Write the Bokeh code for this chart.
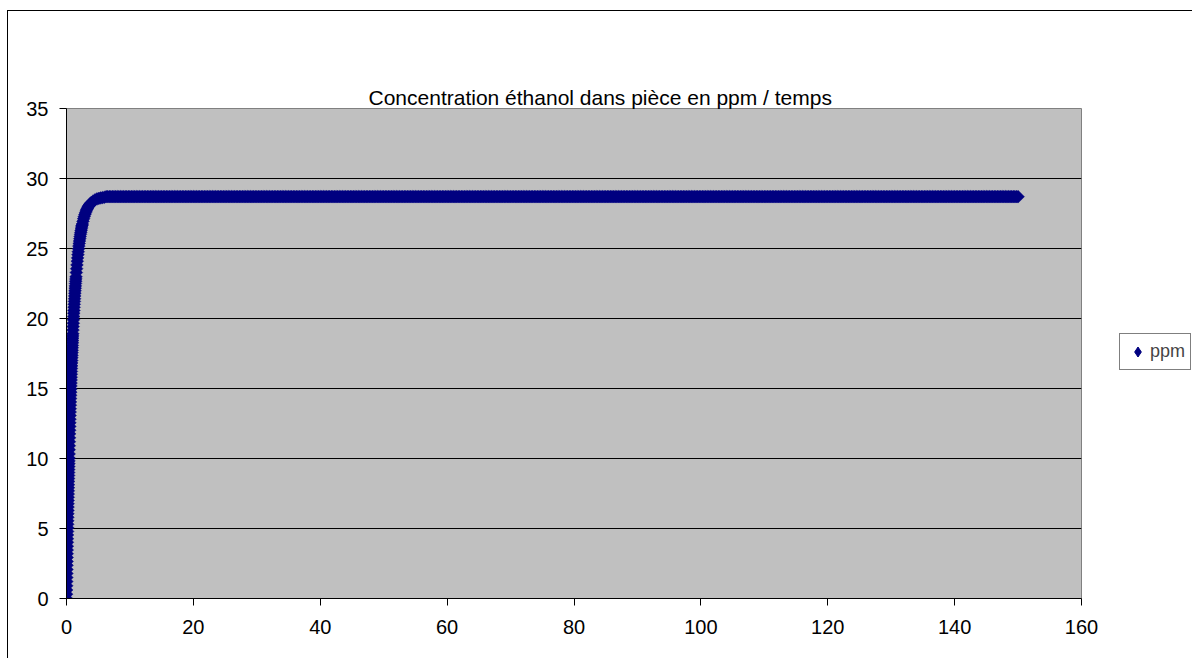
import numpy as np
from bokeh.plotting import figure
from bokeh.models import (ColumnDataSource, FixedTicker, Legend, LegendItem, LinearAxis,
                          Range1d)
from bokeh.embed import file_html
from bokeh.resources import INLINE

# Rise of the ethanol concentration (time, ppm) during the first hours
rise_t = [0.00, 0.01, 0.02, 0.03, 0.04, 0.05, 0.06, 0.07, 0.08, 0.09, 0.10,
          0.11, 0.12, 0.13, 0.14, 0.15, 0.16, 0.17, 0.18, 0.19, 0.20,
          0.21, 0.22, 0.23, 0.24, 0.25, 0.26, 0.27, 0.28, 0.29, 0.30,
          0.31, 0.32, 0.33, 0.34, 0.35, 0.36, 0.37, 0.38, 0.39, 0.40,
          0.415, 0.43, 0.445, 0.46, 0.475, 0.49, 0.505, 0.52, 0.535, 0.55,
          0.565, 0.58, 0.595, 0.61, 0.625, 0.64, 0.655, 0.67, 0.685, 0.70,
          0.715, 0.73, 0.745, 0.76, 0.775, 0.79, 0.805, 0.82, 0.835, 0.85,
          0.865, 0.88, 0.895, 0.91, 0.925, 0.94, 0.955, 0.97, 0.985, 1.00,
          1.025, 1.05, 1.075, 1.10, 1.125, 1.15, 1.175, 1.20, 1.225, 1.25,
          1.275, 1.30, 1.325, 1.35, 1.375, 1.40, 1.425, 1.45, 1.475, 1.50,
          1.55, 1.60, 1.65, 1.70, 1.75, 1.80, 1.85, 1.90, 1.95, 2.00,
          2.05, 2.10, 2.15, 2.20, 2.25, 2.30, 2.35, 2.40, 2.45, 2.50,
          2.6, 2.7, 2.8, 2.9, 3.0, 3.1, 3.2, 3.3, 3.4, 3.5,
          3.6, 3.7, 3.8, 3.9, 4.2, 4.5, 4.8, 5.1, 5.4, 5.7, 6.0]
rise_ppm = [0.00, 0.31, 0.61, 0.91, 1.21, 1.50, 1.79, 2.08, 2.37, 2.65, 2.93,
            3.20, 3.47, 3.74, 4.01, 4.27, 4.54, 4.79, 5.05, 5.30, 5.55,
            5.80, 6.05, 6.29, 6.53, 6.77, 7.00, 7.23, 7.46, 7.69, 7.91,
            8.13, 8.36, 8.57, 8.79, 9.00, 9.21, 9.42, 9.63, 9.83, 10.03,
            10.33, 10.63, 10.91, 11.20, 11.48, 11.76, 12.02, 12.29, 12.55, 12.81,
            13.07, 13.32, 13.56, 13.81, 14.04, 14.28, 14.51, 14.74, 14.96, 15.18,
            15.39, 15.61, 15.81, 16.02, 16.22, 16.43, 16.62, 16.82, 17.00, 17.19,
            17.37, 17.56, 17.73, 17.91, 18.08, 18.26, 18.42, 18.59, 18.75, 18.91,
            19.17, 19.42, 19.66, 19.91, 20.14, 20.37, 20.58, 20.80, 21.01, 21.22,
            21.41, 21.61, 21.80, 21.98, 22.16, 22.33, 22.50, 22.66, 22.82, 22.98,
            23.28, 23.56, 23.83, 24.09, 24.33, 24.56, 24.77, 24.98, 25.17, 25.36,
            25.53, 25.70, 25.86, 26.01, 26.15, 26.28, 26.41, 26.53, 26.64, 26.75,
            26.94, 27.13, 27.28, 27.43, 27.56, 27.68, 27.78, 27.87, 27.96, 28.03,
            28.10, 28.16, 28.22, 28.27, 28.39, 28.47, 28.54, 28.58, 28.61, 28.64, 28.66]

# Steady-state level, sampled every quarter hour up to 150
plateau_level = 28.7
plateau_t = np.arange(6.25, 150.001, 0.25)

x_ticks = [0, 20, 40, 60, 80, 100, 120, 140, 160]
y_ticks = [0, 5, 10, 15, 20, 25, 30, 35]

title_text = "Concentration éthanol dans pièce en ppm / temps"
series_name = "ppm"

t_all = np.concatenate([np.array(rise_t), plateau_t])
ppm_all = np.concatenate([np.array(rise_ppm), np.full(len(plateau_t), plateau_level)])
source = ColumnDataSource(data=dict(t=t_all, ppm=ppm_all))

FONT = "Liberation Sans"
NAVY = "#000080"

p = figure(width=1185, height=648, frame_width=1015, frame_height=490,
           min_border_left=58, min_border_top=97, min_border_right=111,
           min_border_bottom=60,
           x_range=Range1d(0, 160), y_range=Range1d(0, 35),
           output_backend="svg", toolbar_location=None, tools="")
p.styles = {"margin-left": "7px", "margin-top": "10px",
            "border-left": "1px solid black", "border-top": "1px solid black"}

# The real axes, kept before any extra axis is added
x_axis = p.below[0]
y_axis = p.left[0]

# Blank axis above the frame: keeps a gap between the title and the plot area
gap = LinearAxis(ticker=FixedTicker(ticks=[]), axis_line_color=None,
                 major_tick_line_color=None, minor_tick_line_color=None,
                 major_tick_out=53, major_tick_in=0, minor_tick_out=0,
                 major_label_standoff=0, axis_label_standoff=0,
                 major_label_text_color=None)
p.add_layout(gap, "above")

p.title.text = title_text
p.title.align = "left"
p.title.offset = 302
p.title.standoff = 0
p.title.text_font = FONT
p.title.text_font_size = "21px"
p.title.text_font_style = "normal"
p.title.text_color = "black"

p.background_fill_color = "#C0C0C0"
p.border_fill_color = "white"
p.outline_line_color = "#808080"
p.outline_line_width = 1

p.xgrid.visible = False
p.ygrid.grid_line_color = "black"
p.ygrid.grid_line_width = 1
p.ygrid.ticker = FixedTicker(ticks=y_ticks)

for ax in (x_axis, y_axis):
    ax.axis_line_color = "black"
    ax.major_tick_line_color = "black"
    ax.major_tick_out = 7
    ax.major_tick_in = 0
    ax.minor_tick_line_color = None
    ax.major_label_text_font = FONT
    ax.major_label_text_font_size = "20px"
    ax.major_label_text_color = "black"

x_axis.ticker = FixedTicker(ticks=x_ticks)
y_axis.ticker = FixedTicker(ticks=y_ticks)
x_axis.major_label_standoff = 14
y_axis.major_label_standoff = 11

# Data points: navy diamonds (squares turned by 45 degrees)
r = p.scatter("t", "ppm", source=source, marker="square", angle=np.pi / 4,
              size=9, fill_color=NAVY, line_color=NAVY, line_width=0.5)

# Hidden diamond series that only supplies the legend swatch
key = p.scatter("t", "ppm", source=source, marker="diamond",
                fill_color=NAVY, line_color=NAVY, visible=False)

legend = Legend(items=[LegendItem(label=series_name, renderers=[key])],
                location=(38, 228), orientation="vertical",
                border_line_color="black", border_line_width=1,
                background_fill_color="white", background_fill_alpha=1,
                label_text_font=FONT, label_text_font_size="18px",
                glyph_width=25, glyph_height=25, label_standoff=0,
                padding=5, margin=0, spacing=0, label_height=20)
p.add_layout(legend, "right")

open("out.html", "w").write(file_html(p, INLINE))
